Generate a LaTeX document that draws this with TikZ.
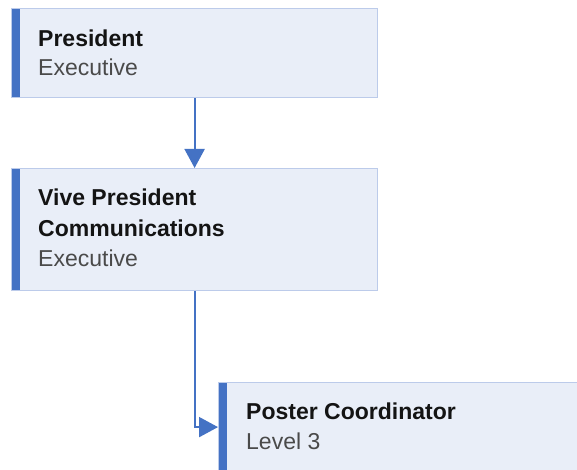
\documentclass[tikz,border=0pt]{standalone}
\usepackage{fontspec}
\setmainfont{Liberation Sans}
\usetikzlibrary{arrows.meta}
\definecolor{boxfill}{HTML}{E9EEF8}
\definecolor{boxline}{HTML}{BCCBEA}
\definecolor{barblue}{HTML}{4472C4}
\definecolor{subgrey}{HTML}{4A4A4A}
\tikzset{
  card/.style={draw=boxline, line width=1.2pt, fill=boxfill, rectangle, anchor=north west,
    minimum width=366pt, minimum height=89pt, inner sep=0pt,
    path picture={\fill[barblue] (path picture bounding box.north west) rectangle ([xshift=8.5pt]path picture bounding box.south west);}},
  title/.style={anchor=base west, inner sep=0pt, font=\fontsize{23}{27}\selectfont\bfseries, text=black!92},
  sub/.style={anchor=base west, inner sep=0pt, font=\fontsize{23}{27}\selectfont, text=subgrey},
  conn/.style={draw=barblue, line width=2pt, -{Triangle[length=19pt,width=20pt]}}
}
\begin{document}
\begin{tikzpicture}[x=1pt,y=-1pt]
\useasboundingbox (0,0) rectangle (577,470);
\fill[white] (0,0) rectangle (577,470);
\node[card] (pres) at (11,8) {};
\node[card, minimum height=122pt] (vp) at (11,168) {};
\node[card] (poster) at (218,382) {};
\node[title] (t1) at (38,47) {President};
\node[sub] (s1) at (38,76) {Executive};
\node[title] (t2) at (38,205) {Vive President};
\node[title] (t2b) at (38,236) {Communications};
\node[sub] (s2) at (38,266) {Executive};
\node[title] (t3) at (246,419) {Poster Coordinator};
\node[sub] (s3) at (246,449) {Level 3};
\draw[conn] (pres.south) -- (vp.north);
\draw[conn] (vp.south) |- (poster.west);
\end{tikzpicture}
\end{document}
